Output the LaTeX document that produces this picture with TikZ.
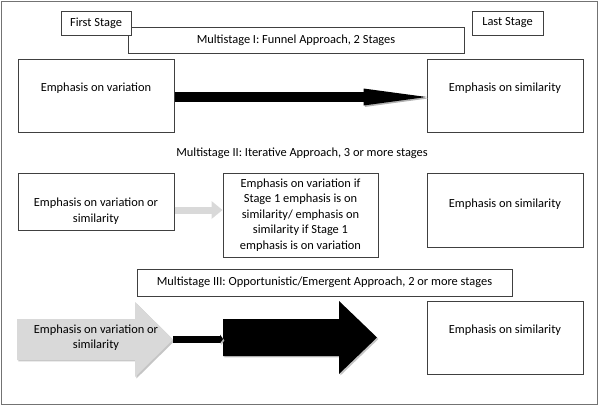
\documentclass[tikz,border=0pt]{standalone}
\usepackage{fontspec}
\setmainfont{Carlito}
\usetikzlibrary{arrows.meta,shadows}

\begin{document}
\begin{tikzpicture}[x=0.75pt, y=-0.75pt,
  font=\fontsize{9.3}{11.6}\selectfont,
  frame/.style={draw=black!55, line width=1.1pt},
  box/.style={draw=black!75, fill=white, line width=0.75pt, inner sep=0pt},
  topbox/.style={box, minimum width=156*\U, minimum height=73*\U,
    text height=9*\U, text depth=18*\U},
  shadowed/.style={drop shadow={shadow xshift=1.1pt, shadow yshift=-1.1pt,
    fill=black!45, opacity=.5}},
  blackarrow/.style={line width=9.5*\U,
    -{Triangle[length=63*\U, width=17*\U, line width=0pt]},
    preaction={draw=black!30, transform canvas={shift={(1pt,-1.1pt)}}}},
  grayarrow/.style={draw=gray!30, line width=7*\U,
    -{Triangle[length=11*\U, width=18*\U, line width=0pt]}},
  linkarrow/.style={line width=7*\U, -{Triangle[length=3*\U, width=9*\U, line width=0pt]},
    preaction={draw=black!30, transform canvas={shift={(1pt,-1.1pt)}}}}]

  \newcommand\U{0.75pt};

  \useasboundingbox (0,0) rectangle (600,407);
  \draw[frame] (1.5,1.5) rectangle (597.5,404.5);

  \node[box, minimum width=336*\U, minimum height=26*\U] (funnel) at (296,40)
    {Multistage I: Funnel Approach, 2 Stages};
  \node[box, minimum width=70*\U, minimum height=24*\U] (first) at (96,23) {First Stage};
  \node[box, minimum width=71*\U, minimum height=24*\U] (last) at (507.5,23) {Last Stage};

  \node[topbox] (var1) at (96,95.5) {Emphasis on variation};
  \node[topbox] (sim1) at (505,95.5) {Emphasis on similarity};
  \draw[blackarrow] ([yshift=-1.5*\U]var1.east) -- ([yshift=-1.5*\U]sim1.west);

  \node (iter) at (302,153) {Multistage II: Iterative Approach, 3 or more stages};
  \node[box, minimum width=156*\U, minimum height=57*\U, align=center,
    text height=43*\U] (var2) at (96,201.5) {Emphasis on variation or\\similarity};
  \node[box, minimum width=155*\U, minimum height=84*\U, align=center] (mid2) at (300.5,215)
    {Emphasis on variation if\\Stage 1 emphasis is on\\similarity/ emphasis on\\similarity if Stage 1\\emphasis is on variation};
  \node[topbox, minimum height=74*\U, text depth=15*\U] (sim2) at (505,210) {Emphasis on similarity};
  \draw[grayarrow] ([yshift=-8.5*\U]var2.east) -- ([yshift=-8.5*\U]var2.east -| mid2.west);

  \node[box, minimum width=375*\U, minimum height=27*\U] (emerg) at (324.5,282.5)
    {Multistage III: Opportunistic/Emergent Approach, 2 or more stages};

  \fill[gray!30, shadowed] (17,319) -- (135,319) -- (135,302) -- (173,339.5)
    -- (135,377) -- (135,360) -- (17,360) -- cycle;
  \node[align=center] (var3) at (96,337.5) {Emphasis on variation or\\similarity};
  \fill[black, shadowed] (223,319) -- (339,319) -- (339,301) -- (377,337.5)
    -- (339,374) -- (339,356) -- (223,356) -- cycle;
  \coordinate (grayTip) at (173,339);
  \coordinate (blackTail) at (223,339);
  \draw[linkarrow] (grayTip) -- (blackTail);
  \node[topbox] (sim3) at (505,337.5) {Emphasis on similarity};

\end{tikzpicture}
\end{document}
